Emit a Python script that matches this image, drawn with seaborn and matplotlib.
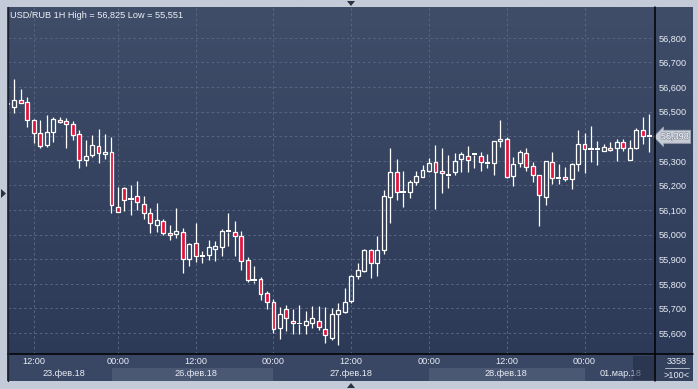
import numpy as np
import matplotlib
matplotlib.use("Agg")
import matplotlib.pyplot as plt
import matplotlib.transforms as mtransforms
from matplotlib.colors import LinearSegmentedColormap
from matplotlib.patches import Rectangle, Polygon
from matplotlib.lines import Line2D
import matplotlib.patheffects as pe
import seaborn as sns

# ---------------- data (hourly USD/RUB candles) ----------------
open_ = [56.529, 56.520, 56.546, 56.538, 56.465, 56.412, 56.366, 56.419, 56.468, 56.461,
         56.449, 56.408, 56.302, 56.323, 56.359, 56.329, 56.336, 56.113, 56.189, 56.144,
         56.156, 56.126, 56.087, 56.041, 56.056, 56.007, 56.002, 56.010, 55.902, 55.966,
         55.912, 55.916, 55.942, 55.949, 56.013, 56.011, 55.994, 55.897, 55.816, 55.819,
         55.762, 55.725, 55.622, 55.698, 55.648, 55.638, 55.632, 55.640, 55.648, 55.616,
         55.582, 55.679, 55.687, 55.732, 55.831, 55.852, 55.937, 55.884, 55.937, 56.155,
         56.254, 56.173, 56.172, 56.213, 56.236, 56.260, 56.294, 56.260, 56.245, 56.254,
         56.306, 56.319, 56.326, 56.319, 56.292, 56.290, 56.380, 56.388, 56.240, 56.290,
         56.331, 56.278, 56.241, 56.155, 56.294, 56.231, 56.233, 56.225, 56.286, 56.367,
         56.349, 56.348, 56.339, 56.351, 56.351, 56.376, 56.305, 56.354, 56.424, 56.401]
high = [56.550, 56.633, 56.592, 56.560, 56.469, 56.466, 56.487, 56.480, 56.477, 56.473,
        56.462, 56.426, 56.385, 56.405, 56.430, 56.409, 56.397, 56.194, 56.193, 56.202,
        56.218, 56.157, 56.110, 56.128, 56.063, 56.041, 56.109, 56.026, 55.967, 56.047,
        55.934, 55.978, 55.974, 56.022, 56.089, 56.056, 56.015, 55.911, 55.873, 55.827,
        55.771, 55.739, 55.705, 55.714, 55.699, 55.714, 55.690, 55.712, 55.712, 55.708,
        55.701, 55.721, 55.782, 55.836, 55.884, 55.941, 55.941, 55.995, 56.182, 56.352,
        56.308, 56.259, 56.222, 56.259, 56.283, 56.312, 56.365, 56.352, 56.324, 56.331,
        56.335, 56.361, 56.333, 56.335, 56.328, 56.380, 56.466, 56.396, 56.316, 56.343,
        56.352, 56.296, 56.241, 56.298, 56.336, 56.289, 56.275, 56.291, 56.426, 56.412,
        56.442, 56.380, 56.367, 56.376, 56.388, 56.390, 56.385, 56.434, 56.477, 56.489]
low = [56.510, 56.496, 56.534, 56.437, 56.372, 56.354, 56.358, 56.378, 56.453, 56.354,
       56.385, 56.272, 56.280, 56.315, 56.293, 56.307, 56.087, 56.091, 56.098, 56.081,
       56.100, 56.065, 56.008, 56.012, 56.000, 55.978, 55.988, 55.845, 55.873, 55.890,
       55.886, 55.897, 55.894, 55.913, 55.955, 55.915, 55.857, 55.809, 55.805, 55.735,
       55.698, 55.602, 55.575, 55.610, 55.595, 55.595, 55.596, 55.622, 55.613, 55.561,
       55.572, 55.551, 55.683, 55.724, 55.821, 55.849, 55.825, 55.833, 55.920, 56.049,
       56.139, 56.114, 56.149, 56.203, 56.233, 56.255, 56.106, 56.171, 56.191, 56.241,
       56.256, 56.256, 56.272, 56.260, 56.270, 56.244, 56.355, 56.230, 56.199, 56.274,
       56.258, 56.215, 56.037, 56.122, 56.206, 56.206, 56.218, 56.185, 56.259, 56.252,
       56.297, 56.285, 56.339, 56.339, 56.301, 56.341, 56.305, 56.348, 56.370, 56.337]
close = [56.531, 56.548, 56.534, 56.465, 56.412, 56.362, 56.416, 56.469, 56.457, 56.449,
         56.405, 56.302, 56.319, 56.363, 56.331, 56.337, 56.122, 56.091, 56.142, 56.146,
         56.132, 56.087, 56.046, 56.059, 56.008, 55.999, 56.014, 55.902, 55.962, 55.915,
         55.914, 55.949, 55.953, 56.014, 56.015, 55.994, 55.894, 55.817, 55.814, 55.758,
         55.725, 55.618, 55.676, 55.660, 55.640, 55.640, 55.648, 55.660, 55.624, 55.591,
         55.676, 55.693, 55.728, 55.831, 55.855, 55.937, 55.884, 55.937, 56.156, 56.254,
         56.172, 56.175, 56.213, 56.237, 56.262, 56.290, 56.254, 56.250, 56.243, 56.298,
         56.328, 56.302, 56.328, 56.294, 56.294, 56.380, 56.388, 56.236, 56.287, 56.335,
         56.276, 56.241, 56.160, 56.298, 56.229, 56.233, 56.225, 56.287, 56.367, 56.347,
         56.351, 56.346, 56.355, 56.343, 56.376, 56.351, 56.351, 56.424, 56.402, 56.398]

time_tick_pos = [4, 17, 29, 41, 53, 65, 77, 89]
time_tick_labels = ["12:00", "00:00", "12:00", "00:00", "12:00", "00:00", "12:00", "00:00"]
date_label_pos = [8.6, 29.0, 53.0, 76.9, 94.6]
date_labels = ["23.фев.18", "26.фев.18", "27.фев.18", "28.фев.18", "01.мар.18"]
day_bands = [(16.13, 40.88), (65.0, 89.0)]
price_ticks = [55.6, 55.7, 55.8, 55.9, 56.0, 56.1, 56.2, 56.3, 56.4, 56.5, 56.6, 56.7, 56.8]
last_price = 56.398
title = "USD/RUB 1H High = 56,825 Low = 55,551"
footer_top = "3358"
footer_bottom = ">100<"

# ---------------- style ----------------
sns.set_theme(style="dark")
plt.rcParams['font.family'] = ['Liberation Sans', 'DejaVu Sans']
FS = 6.6
TXT = '#e8edf5'
RED = '#e0143c'

W, H = 698, 389
fig = plt.figure(figsize=(W / 100, H / 100), dpi=100)
fig.patch.set_facecolor('#c3cbd8')


def fx(px):
    return px / W


def fy(py):
    return 1 - py / H


def fmt(v):
    return f"{v:.3f}".replace('.', ',')


# gradient panel
bg = fig.add_axes([fx(7.5), fy(381), fx(693) - fx(7.5), fy(7) - fy(381)])
grad = np.linspace(0, 1, 256).reshape(-1, 1)
cmap = LinearSegmentedColormap.from_list('bg', ['#3f4d69', '#2b3856'])
bg.imshow(grad, aspect='auto', cmap=cmap, extent=[0, 1, 0, 1], origin='upper')
bg.set_axis_off()

# main axes
ax = fig.add_axes([fx(8), fy(354), fx(655) - fx(8), fy(7) - fy(354)])
ax.set_facecolor('none')
px_per_candle = 6.48
x_first = 7.8
ax.set_xlim((8 - x_first) / px_per_candle, (655 - x_first) / px_per_candle)
ax.set_ylim(55.515, 56.9256)
for s in ax.spines.values():
    s.set_visible(False)

o = np.array(open_)
h = np.array(high)
l = np.array(low)
c = np.array(close)
x = np.arange(len(o))

doji = np.abs(c - o) < 0.004
bull = (c > o) & ~doji
bear = (c < o) & ~doji
mid = (o + c) / 2
top = np.where(doji, mid + 0.004, np.maximum(o, c))
bot = np.where(doji, mid - 0.004, np.minimum(o, c))

ax.set_yticks(price_ticks)
ax.set_xticks(time_tick_pos)
ax.grid(True, color='#56647f', linestyle=(0, (2.5, 2.5)), linewidth=0.75)
ax.set_axisbelow(True)

ax.vlines(x, top, h, color='white', linewidth=0.9, zorder=3)
ax.vlines(x, l, bot, color='white', linewidth=0.9, zorder=3)
ax.bar(x[bull], (c - o)[bull], bottom=o[bull], width=0.6, facecolor='none',
       edgecolor='white', linewidth=0.9, zorder=4)
ax.bar(x[bear], (o - c)[bear], bottom=c[bear], width=0.6, facecolor=RED,
       edgecolor='white', linewidth=0.9, zorder=4)
ax.bar(x[doji], 0.008, bottom=mid[doji] - 0.004, width=0.8, facecolor='white',
       edgecolor='white', linewidth=0.0, zorder=4)

ax.yaxis.tick_right()
# the label under the last-price tag is hidden in the original
ax.set_yticklabels(["" if abs(v - last_price) < 0.03 else fmt(v) for v in price_ticks])
ax.tick_params(axis='y', length=0, pad=2.3, labelsize=FS, labelcolor=TXT)
ax.tick_params(axis='x', length=0, labelbottom=False)

# last price tag
blend_ay = mtransforms.blended_transform_factory(ax.transAxes, ax.transData)
ax.annotate(fmt(last_price), xy=(1.0, last_price), xycoords=blend_ay,
            xytext=(4.2, 0), textcoords='offset points', ha='left', va='center',
            fontsize=FS, color='white', annotation_clip=False,
            path_effects=[pe.withStroke(linewidth=1.0, foreground='#8a94a6')],
            bbox=dict(boxstyle='larrow,pad=0.22', fc='#c7ccd5', ec='#9aa3b2', lw=0.6))

# bottom strip
fig.add_artist(Rectangle((fx(8), fy(381)), fx(655) - fx(8), fy(354) - fy(381),
                         transform=fig.transFigure, facecolor='#3a4764', edgecolor='none', zorder=1))
fig.add_artist(Rectangle((fx(655), fy(381)), fx(693) - fx(655), fy(354) - fy(381),
                         transform=fig.transFigure, facecolor='#34415d', edgecolor='none', zorder=1))
blend_xf = mtransforms.blended_transform_factory(ax.transData, fig.transFigure)
for a, b in day_bands:
    fig.add_artist(Rectangle((a, fy(381)), b - a, fy(367.5) - fy(381), transform=blend_xf,
                             facecolor='#4b5874', edgecolor='none', zorder=1.5))
for p, t in zip(time_tick_pos, time_tick_labels):
    fig.text(p, fy(361.5), t, transform=blend_xf, ha='center', va='center',
             fontsize=FS, color=TXT, zorder=3)
for p, t in zip(date_label_pos, date_labels):
    fig.text(p, fy(373.8), t, transform=blend_xf, ha='center', va='center',
             fontsize=FS, color=TXT, zorder=3)
# scroll marker overlay
fig.add_artist(Rectangle((fx(633), fy(380)), fx(654) - fx(633), fy(356) - fy(380),
                         transform=fig.transFigure, facecolor='#1f2a42', alpha=0.55,
                         edgecolor='none', zorder=4))

fig.text(fx(677), fy(361.5), footer_top, ha='center', va='center', fontsize=FS, color=TXT)
fig.text(fx(677), fy(375), footer_bottom, ha='center', va='center', fontsize=FS, color=TXT)
fig.add_artist(Line2D([fx(665), fx(689)], [fy(368.3), fy(368.3)], color='#aab5c6', lw=0.7, zorder=5))

# frame lines
fig.add_artist(Line2D([fx(655.3), fx(655.3)], [fy(7), fy(381)], color='black', lw=1.1, zorder=5))
fig.add_artist(Line2D([fx(8), fx(693)], [fy(354.3), fy(354.3)], color='black', lw=1.1, zorder=5))
fig.add_artist(Line2D([fx(8), fx(8)], [fy(7), fy(381)], color='#1c2333', lw=1.0, zorder=5))

# title
fig.text(fx(10), fy(15), title, ha='left', va='center', fontsize=FS, color='#eef2f8')

# UI triangles
tri = '#2a3242'
fig.add_artist(Polygon([(fx(347), fy(1)), (fx(355), fy(1)), (fx(351), fy(6))], closed=True,
                       transform=fig.transFigure, facecolor=tri, edgecolor='none'))
fig.add_artist(Polygon([(fx(347), fy(388)), (fx(355), fy(388)), (fx(351), fy(383))], closed=True,
                       transform=fig.transFigure, facecolor=tri, edgecolor='none'))
fig.add_artist(Polygon([(fx(1), fy(189)), (fx(1), fy(198)), (fx(6), fy(193.5))], closed=True,
                       transform=fig.transFigure, facecolor=tri, edgecolor='none'))

fig.savefig('out.png', dpi=100, facecolor=fig.get_facecolor())
